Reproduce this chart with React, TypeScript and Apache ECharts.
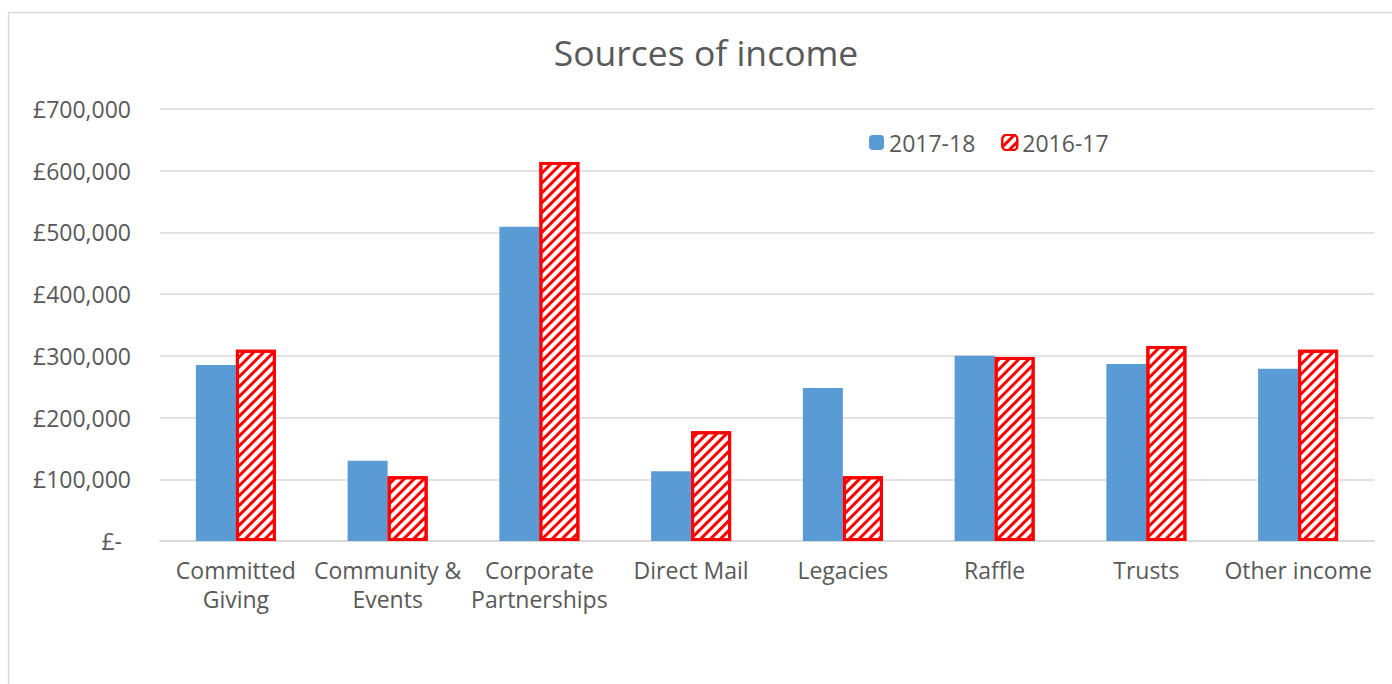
import React, { useEffect, useRef } from "react";
import * as echarts from "echarts";

const categories = [
  "Committed\nGiving",
  "Community &\nEvents",
  "Corporate\nPartnerships",
  "Direct Mail",
  "Legacies",
  "Raffle",
  "Trusts",
  "Other income",
];
const seriesNames = ["2017-18", "2016-17"];
const values2017 = [285000, 130000, 509000, 113000, 248000, 300000, 287000, 279000];
const values2016 = [310000, 105000, 614000, 178000, 105000, 298000, 316000, 310000];
const yTicks = { min: 0, max: 700000, interval: 100000 };
const titleText = "Sources of income";

const FONT = "'Open Sans', sans-serif";
const TXT = "#595959";
const FS = 23;

export default function App() {
  const ref = useRef<HTMLDivElement>(null);
  useEffect(() => {
    if (!ref.current) return;
    const chart = echarts.init(ref.current, undefined, { renderer: "svg" });
    chart.setOption({
      animation: false,
      backgroundColor: "#ffffff",
      textStyle: { fontFamily: FONT, color: TXT },
      graphic: [
        {
          type: "rect",
          shape: { x: 8.5, y: 12.5, width: 1500, height: 800 },
          style: { fill: "none", stroke: "#d9d9d9", lineWidth: 1.5 },
          silent: true,
        },
        {
          type: "text",
          x: 706,
          y: 52,
          style: {
            text: titleText,
            fontFamily: FONT,
            fontSize: 35.5,
            fill: TXT,
            align: "center",
            verticalAlign: "middle",
          },
        },
      ],
      legend: {
        data: seriesNames,
        left: 864,
        top: 126,
        itemWidth: 15,
        itemHeight: 15,
        itemGap: 26,
        textStyle: { fontSize: FS, color: TXT, fontFamily: FONT },
      },
      grid: { left: 160, right: 18, top: 109, bottom: 143, containLabel: false },
      xAxis: {
        type: "category",
        data: categories,
        axisTick: { show: false },
        axisLine: { lineStyle: { color: "#d9d9d9", width: 2 } },
        axisLabel: {
          fontSize: FS,
          color: TXT,
          fontFamily: FONT,
          lineHeight: 29,
          margin: 14,
          interval: 0,
        },
      },
      yAxis: {
        type: "value",
        min: yTicks.min,
        max: yTicks.max,
        interval: yTicks.interval,
        axisLine: { show: false },
        axisTick: { show: false },
        splitLine: { lineStyle: { color: "#d9d9d9", width: 1.5 } },
        axisLabel: {
          fontSize: FS,
          color: TXT,
          fontFamily: FONT,
          margin: 29,
          formatter: (v: number) =>
            v === 0 ? "{z|£-}" : "£" + v.toLocaleString("en-GB"),
          rich: { z: { fontSize: FS, color: TXT, fontFamily: FONT, padding: [0, 9, 0, 0] } },
        },
      },
      series: [
        {
          name: seriesNames[0],
          type: "bar",
          data: values2017,
          barWidth: 40,
          barGap: "0%",
          itemStyle: { color: "#5b9bd5" },
        },
        {
          name: seriesNames[1],
          type: "bar",
          data: values2016,
          barWidth: 40,
          itemStyle: {
            color: "#ffffff",
            borderColor: "#ff0000",
            borderWidth: 3,
            decal: {
              symbol: "rect",
              symbolSize: 1,
              color: "#ff0000",
              backgroundColor: "#ffffff",
              dashArrayX: [1, 0],
              dashArrayY: [3, 4],
              rotation: -Math.PI / 4,
            },
          },
        },
      ],
    });
    return () => chart.dispose();
  }, []);
  return (
    <div
      ref={ref}
      style={{ position: "fixed", left: 0, top: 0, width: 1392, height: 684 }}
    />
  );
}
